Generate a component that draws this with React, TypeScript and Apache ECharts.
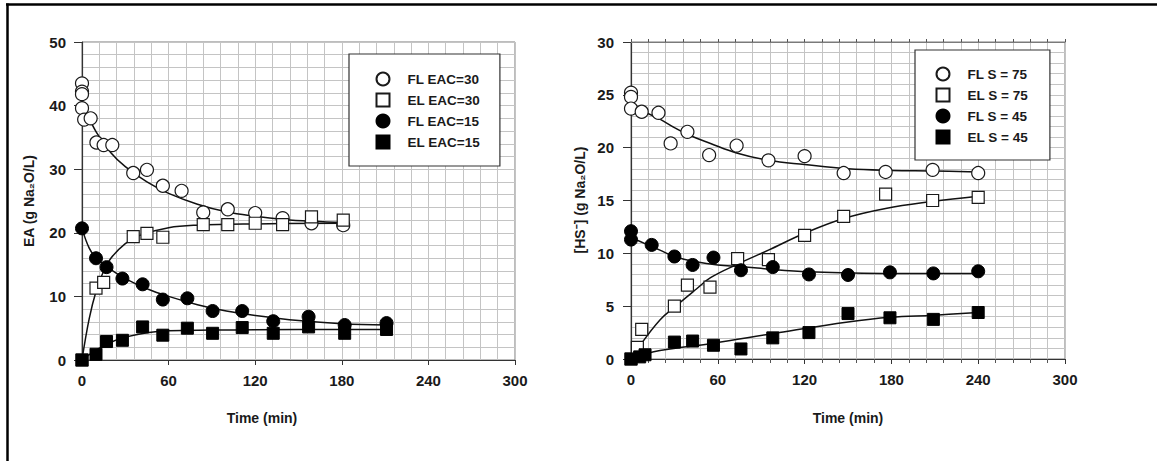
import React, { useEffect, useRef } from "react";
import * as echarts from "echarts";

// ---- Left panel data (Time in min, EA in g Na2O/L) ----
const fl30T = [0, 0, 0, 0, 1.5, 6, 10, 15, 21, 35.5, 45, 56, 69, 84, 101, 120, 139, 159, 181];
const fl30V = [43.5, 42.2, 41.8, 39.6, 37.8, 38.0, 34.2, 33.8, 33.8, 29.4, 29.9, 27.4, 26.6, 23.2, 23.7, 23.1, 22.3, 21.5, 21.2];
const el30T = [0, 9.7, 15, 35.5, 45, 56, 84, 101, 120, 139, 159, 181];
const el30V = [0, 11.3, 12.2, 19.4, 19.9, 19.3, 21.3, 21.3, 21.5, 21.3, 22.5, 22.0];
const fl15T = [0, 9.7, 17, 28, 42, 56, 73, 90.5, 111, 132.5, 157, 182, 211];
const fl15V = [20.7, 16.0, 14.6, 12.8, 11.9, 9.5, 9.7, 7.7, 7.7, 6.1, 6.8, 5.5, 5.8];
const el15T = [0, 9.7, 17, 28, 42, 56, 73, 90.5, 111, 132.5, 157, 182, 211];
const el15V = [0, 0.9, 2.9, 3.1, 5.2, 3.9, 5.0, 4.2, 5.1, 4.2, 5.2, 4.2, 4.8];

// fitted curves
const fl30FitT = [4, 10, 20, 30, 45, 60, 80, 100, 120, 140, 160, 181];
const fl30FitV = [38.5, 35.8, 32.6, 30.4, 28.0, 26.2, 24.5, 23.3, 22.6, 22.1, 21.8, 21.6];
const el30FitT = [0, 5, 10, 15, 20, 30, 40, 60, 80, 120, 181];
const el30FitV = [0, 6.5, 11, 14, 16, 18.3, 19.6, 20.8, 21.2, 21.4, 21.5];
const fl15FitT = [0, 5, 10, 20, 30, 45, 60, 80, 100, 120, 150, 180, 211];
const fl15FitV = [20.7, 17.6, 16.0, 14.2, 12.8, 11.2, 10.0, 8.7, 7.7, 7.0, 6.2, 5.7, 5.5];
const el15FitT = [0, 10, 20, 30, 45, 60, 90, 120, 180, 211];
const el15FitV = [0, 1.6, 2.8, 3.6, 4.3, 4.6, 4.7, 4.75, 4.8, 4.8];

// ---- Right panel data (Time in min, [HS-] in g Na2O/L) ----
const fl75T = [0, 0, 0, 7.4, 19, 27.4, 39, 54, 73, 95, 120, 147, 176, 208.5, 240];
const fl75V = [25.2, 24.8, 23.7, 23.4, 23.3, 20.4, 21.5, 19.3, 20.2, 18.8, 19.2, 17.6, 17.7, 17.9, 17.6];
const el75T = [0, 4.4, 7.4, 30, 39, 54.6, 73.7, 95, 120, 147, 176, 208.5, 240];
const el75V = [0, 1.1, 2.8, 5.0, 7.0, 6.8, 9.5, 9.4, 11.7, 13.5, 15.6, 15.0, 15.3];
const fl45T = [0, 0, 14.3, 30, 42.6, 57, 76, 98, 123, 150, 179, 209, 240];
const fl45V = [12.1, 11.3, 10.8, 9.7, 8.9, 9.6, 8.4, 8.7, 8.0, 7.95, 8.2, 8.1, 8.3];
const el45T = [0, 6, 9.7, 30, 42.6, 57, 76, 98, 123, 150, 179, 209, 240];
const el45V = [0, 0.2, 0.4, 1.6, 1.7, 1.3, 0.95, 2.0, 2.5, 4.3, 3.9, 3.75, 4.4];

const fl75FitT = [1, 8, 20, 30, 40, 55, 73, 95, 120, 150, 180, 210, 240];
const fl75FitV = [24.3, 23.5, 22.7, 21.9, 21.2, 20.4, 19.5, 18.8, 18.4, 18.0, 17.85, 17.8, 17.7];
const el75FitT = [7.4, 20, 30, 45, 55, 74, 95, 120, 147, 176, 208, 240];
const el75FitV = [1.5, 3.7, 4.9, 6.6, 7.7, 9.0, 10.3, 11.9, 13.3, 14.25, 14.9, 15.4];
const fl45FitT = [0, 10, 20, 30, 45, 60, 76, 100, 123, 150, 180, 210, 240];
const fl45FitV = [11.5, 10.9, 10.3, 9.7, 9.2, 8.9, 8.75, 8.45, 8.25, 8.15, 8.1, 8.1, 8.1];
const el45FitT = [0, 20, 57, 98, 150, 179, 210, 240];
const el45FitV = [0.1, 0.8, 1.5, 2.4, 3.5, 3.95, 4.15, 4.4];

const leftNames = ["FL EAC=30", "EL EAC=30", "FL EAC=15", "EL EAC=15"];
const rightNames = ["FL S = 75", "EL S = 75", "FL S = 45", "EL S = 45"];
const xTitle = "Time (min)";
const leftYTitle = "EA (g Na\u2082O/L)";
const rightYTitle = "[HS\u207B] (g Na\u2082O/L)";

const FONT = "'Liberation Sans', Arial, Helvetica, sans-serif";
const zip = (t: number[], v: number[]) => t.map((x, i) => [x, v[i]]);

export default function App() {
  const ref = useRef<HTMLDivElement>(null);
  useEffect(() => {
    if (!ref.current) return;
    const chart = echarts.init(ref.current, undefined, { renderer: "svg" });
    const gridLine = { lineStyle: { color: "#c4c4c4", width: 1 } };
    const labelStyle = { fontFamily: FONT, fontWeight: "bold" as const, fontSize: 15, color: "#1a1a1a" };

    const xBase = (gi: number, minorTicks: boolean) => ({
      type: "value",
      gridIndex: gi,
      min: 0,
      max: 300,
      interval: 60,
      axisLine: { show: true, lineStyle: { color: "#333", width: 1.2 } },
      axisTick: { show: true, length: 5, lineStyle: { color: "#333" } },
      minorTick: { show: minorTicks, splitNumber: 5, length: 4, lineStyle: { color: "#555" } },
      splitLine: { show: true, ...gridLine },
      minorSplitLine: { show: true, ...gridLine },
      axisLabel: { ...labelStyle, margin: 13 },
    });
    const yBase = (gi: number, max: number, interval: number, margin: number) => ({
      type: "value",
      gridIndex: gi,
      min: 0,
      max,
      interval,
      axisLine: { show: true, lineStyle: { color: "#333", width: 1.2 } },
      axisTick: { show: true, length: 8, lineStyle: { color: "#333" } },
      minorTick: { show: false, splitNumber: 5 },
      splitLine: { show: true, ...gridLine },
      minorSplitLine: { show: true, ...gridLine },
      axisLabel: { ...labelStyle, margin },
    });

    const openStyle = { color: "#ffffff", borderColor: "#1a1a1a", borderWidth: 1.2, opacity: 1 };
    const fillStyle = { color: "#000000", borderColor: "#000", borderWidth: 1, opacity: 1 };
    const scatter = (name: string, xi: number, t: number[], v: number[], symbol: string, filled: boolean) => ({
      name,
      type: "scatter",
      xAxisIndex: xi,
      yAxisIndex: xi === 0 ? 0 : 1,
      symbol,
      symbolSize: symbol === "circle" ? 13 : 12,
      itemStyle: filled ? fillStyle : openStyle,
      data: zip(t, v),
      z: 3,
    });
    const fit = (xi: number, t: number[], v: number[]) => ({
      type: "line",
      xAxisIndex: xi,
      yAxisIndex: xi === 0 ? 0 : 1,
      smooth: 0.4,
      showSymbol: false,
      symbol: "none",
      lineStyle: { color: "#111", width: 1.5 },
      data: zip(t, v),
      z: 2,
      silent: true,
    });

    const legendText = { fontFamily: FONT, fontWeight: "bold" as const, fontSize: 13.5, color: "#1a1a1a", lineHeight: 13, padding: [0, 0, 0, 13] };

    chart.setOption({
      animation: false,
      backgroundColor: "#ffffff",
      grid: [
        { left: 82, top: 42, width: 433, height: 318, show: true, borderColor: "#7a7a7a", borderWidth: 1, backgroundColor: "transparent" },
        { left: 631, top: 42, width: 434, height: 317, show: true, borderColor: "#7a7a7a", borderWidth: 1, backgroundColor: "transparent" },
      ],
      xAxis: [
        xBase(0, false),
        xBase(1, true),
        {
          type: "value",
          gridIndex: 1,
          position: "top",
          min: 0,
          max: 300,
          interval: 60,
          axisLine: { show: true, lineStyle: { color: "#7a7a7a", width: 1 } },
          axisTick: { show: true, length: 3, lineStyle: { color: "#555" } },
          minorTick: { show: true, splitNumber: 5, length: 3, lineStyle: { color: "#555" } },
          splitLine: { show: false },
          axisLabel: { show: false },
        },
      ],
      yAxis: [yBase(0, 50, 10, 16), yBase(1, 30, 5, 17)],
      legend: [
        {
          data: leftNames,
          orient: "vertical",
          left: 349,
          top: 54,
          itemWidth: 13,
          itemHeight: 13,
          itemGap: 6,
          padding: [17.5, 20, 16.5, 26.5],
          borderColor: "#333",
          borderWidth: 1.2,
          backgroundColor: "#ffffff",
          textStyle: legendText,
          selectedMode: false,
        },
        {
          data: rightNames,
          orient: "vertical",
          left: 915,
          top: 50,
          itemWidth: 13,
          itemHeight: 13,
          itemGap: 6,
          padding: [16.5, 22, 15.5, 20.5],
          borderColor: "#333",
          borderWidth: 1.2,
          backgroundColor: "#ffffff",
          textStyle: legendText,
          selectedMode: false,
        },
      ],
      graphic: [
        { type: "line", shape: { x1: 6, y1: 4.5, x2: 1157, y2: 4.5 }, style: { stroke: "#000", lineWidth: 2.5 }, z: 100 },
        { type: "line", shape: { x1: 7.5, y1: 3.5, x2: 7.5, y2: 461 }, style: { stroke: "#000", lineWidth: 2.5 }, z: 100 },
        {
          type: "text", x: 28.5, y: 201, rotation: Math.PI / 2,
          style: { text: leftYTitle, fontFamily: FONT, fontWeight: "bold", fontSize: 14, fill: "#1a1a1a", textAlign: "center", textVerticalAlign: "middle" },
        },
        {
          type: "text", x: 580, y: 200, rotation: Math.PI / 2,
          style: { text: rightYTitle, fontFamily: FONT, fontWeight: "bold", fontSize: 14, fill: "#1a1a1a", textAlign: "center", textVerticalAlign: "middle" },
        },
        {
          type: "text", x: 262, y: 418,
          style: { text: xTitle, fontFamily: FONT, fontWeight: "bold", fontSize: 14, fill: "#1a1a1a", textAlign: "center", textVerticalAlign: "middle" },
        },
        {
          type: "text", x: 848, y: 418,
          style: { text: xTitle, fontFamily: FONT, fontWeight: "bold", fontSize: 14, fill: "#1a1a1a", textAlign: "center", textVerticalAlign: "middle" },
        },
      ],
      series: [
        fit(0, fl30FitT, fl30FitV),
        fit(0, el30FitT, el30FitV),
        fit(0, fl15FitT, fl15FitV),
        fit(0, el15FitT, el15FitV),
        fit(1, fl75FitT, fl75FitV),
        fit(1, el75FitT, el75FitV),
        fit(1, fl45FitT, fl45FitV),
        fit(1, el45FitT, el45FitV),
        scatter(leftNames[0], 0, fl30T, fl30V, "circle", false),
        scatter(leftNames[1], 0, el30T, el30V, "rect", false),
        scatter(leftNames[2], 0, fl15T, fl15V, "circle", true),
        scatter(leftNames[3], 0, el15T, el15V, "rect", true),
        scatter(rightNames[0], 1, fl75T, fl75V, "circle", false),
        scatter(rightNames[1], 1, el75T, el75V, "rect", false),
        scatter(rightNames[2], 1, fl45T, fl45V, "circle", true),
        scatter(rightNames[3], 1, el45T, el45V, "rect", true),
      ],
    });
    return () => chart.dispose();
  }, []);

  return (
    <div
      ref={ref}
      style={{ position: "fixed", left: 0, top: 0, width: 1157, height: 461, background: "#fff" }}
    />
  );
}
